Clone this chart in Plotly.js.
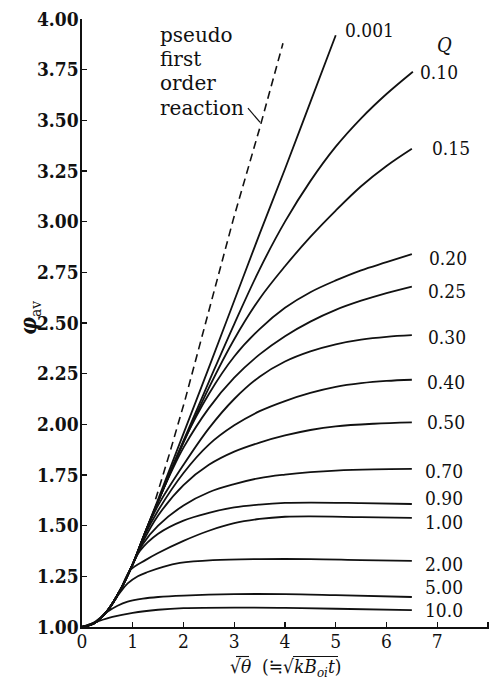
<!DOCTYPE html>
<html>
<head>
<meta charset="utf-8">
<script src="https://cdn.plot.ly/plotly-3.0.1.min.js"></script>
<style>html,body{margin:0;padding:0;background:#fff;}#chart{width:493px;height:680px;}</style>
</head>
<body>
<div id="chart"></div>
<script>
// ---- data ----
const pfoX = [1.45, 1.73, 2.03, 2.5, 2.98, 3.5, 3.96];
const pfoY = [1.63, 1.86, 2.12, 2.56, 3.01, 3.46, 3.88];

const q0001X = [0,0.25,0.5,0.75,1.0,1.25,1.5,1.87,2.5,3.0,3.5,4.0,4.5,5.0];
const q0001Y = [1,1.02,1.08,1.18,1.31,1.47,1.63,1.87,2.28,2.61,2.94,3.26,3.59,3.92];

const q010X = [0,0.25,0.5,0.75,1.0,1.25,1.5,2.0,2.5,3.0,3.5,4.0,4.5,5.0,5.5,6.0,6.52];
const q010Y = [1,1.02,1.08,1.18,1.31,1.47,1.62,1.92,2.21,2.495,2.765,3.0,3.2,3.37,3.51,3.63,3.74];

const q015X = [0,0.25,0.5,0.75,1.0,1.25,1.5,2.0,2.5,3.0,3.5,4.0,4.5,5.0,5.5,6.0,6.5];
const q015Y = [1,1.02,1.08,1.18,1.31,1.47,1.62,1.91,2.18,2.42,2.62,2.78,2.925,3.055,3.175,3.275,3.36];

const q020X = [0,0.25,0.5,0.75,1.0,1.25,1.5,1.75,2.0,2.5,3.0,3.5,4.0,4.5,5.0,5.5,6.0,6.5];
const q020Y = [1,1.02,1.08,1.18,1.31,1.47,1.62,1.77,1.915,2.15,2.335,2.47,2.575,2.652,2.71,2.76,2.80,2.84];

const q025X = [0,0.25,0.5,0.75,1.0,1.25,1.5,1.75,2.0,2.5,3.0,3.5,4.0,4.5,5.0,5.5,6.0,6.5];
const q025Y = [1,1.02,1.08,1.18,1.31,1.47,1.62,1.76,1.885,2.08,2.23,2.345,2.435,2.507,2.565,2.61,2.648,2.68];

const q030X = [0,0.25,0.5,0.75,1.0,1.25,1.5,2.0,2.5,3.0,3.5,4.0,4.5,5.0,5.5,6.0,6.5];
const q030Y = [1,1.02,1.08,1.18,1.31,1.47,1.60,1.80,1.98,2.125,2.235,2.31,2.36,2.395,2.418,2.432,2.44];

const q040X = [0,0.25,0.5,0.75,1.0,1.25,1.5,2.0,2.5,3.0,3.5,4.0,4.5,5.0,5.5,6.0,6.5];
const q040Y = [1,1.02,1.08,1.18,1.31,1.46,1.575,1.76,1.90,1.995,2.065,2.115,2.155,2.185,2.203,2.214,2.22];

const q050X = [0,0.25,0.5,0.75,1.0,1.2,1.5,2.0,2.5,3.0,3.5,4.0,4.5,5.0,5.75,6.5];
const q050Y = [1,1.02,1.08,1.18,1.31,1.42,1.55,1.70,1.80,1.865,1.91,1.945,1.972,1.99,2.003,2.01];

const q070X = [0,0.25,0.5,0.75,1.0,1.2,1.5,2.0,2.5,3.0,3.5,4.0,4.5,5.0,5.75,6.5];
const q070Y = [1,1.02,1.08,1.18,1.31,1.41,1.50,1.60,1.665,1.705,1.735,1.752,1.764,1.772,1.778,1.78];

const q090X = [0,0.25,0.5,0.75,1.0,1.14,1.5,2.0,2.5,3.0,3.5,4.0,4.5,5.5,6.5];
const q090Y = [1,1.02,1.08,1.18,1.31,1.375,1.46,1.525,1.563,1.59,1.604,1.612,1.614,1.611,1.607];

const q100X = [0,0.25,0.5,0.75,0.95,1.25,1.5,2.0,2.5,3.0,3.5,4.0,4.5,5.5,6.5];
const q100Y = [1,1.02,1.08,1.18,1.28,1.33,1.365,1.425,1.475,1.512,1.533,1.544,1.546,1.542,1.538];

const q200X = [0,0.25,0.5,0.75,0.9,1.1,1.28,1.6,1.93,2.58,3.5,4.5,5.5,6.5];
const q200Y = [1,1.02,1.08,1.17,1.215,1.25,1.27,1.297,1.316,1.33,1.335,1.335,1.33,1.326];

const q500X = [0,0.25,0.5,0.7,0.9,1.2,1.5,2.0,3.0,4.0,5.0,6.5];
const q500Y = [1,1.025,1.075,1.105,1.125,1.14,1.148,1.155,1.162,1.162,1.157,1.148];

const q1000X = [0,0.3,0.6,1.0,1.5,2.0,3.0,4.0,5.0,6.5];
const q1000Y = [1,1.027,1.05,1.07,1.085,1.093,1.096,1.094,1.09,1.083];

const qLabels = ["0.001","0.10","0.15","0.20","0.25","0.30","0.40","0.50","0.70","0.90","1.00","2.00","5.00","10.0"];
const pfoLabel = ["pseudo","first","order","reaction"];
const xTicks = [0,1,2,3,4,5,6,7,8];
const xTitle = '√<i>θ</i>  (≒√<i>kB</i><sub><i>oi</i></sub><i>t</i>)';
const yTitle = '<b><i>φ</i></b><sub>av</sub>';

// ---- drawing ----
const serif = 'DejaVu Serif Condensed, DejaVu Serif';
const serifW = 'DejaVu Serif';
const L = 82, R = 4, T = 19, B = 53, W = 493, H = 680;
const pw = W - L - R, ph = H - T - B;
const px2p = px => (px - L) / pw;          // pixel x -> paper x
const py2p = py => (H - B - py) / ph;      // pixel y -> paper y

const curves = [
  [q0001X,q0001Y],[q010X,q010Y],[q015X,q015Y],[q020X,q020Y],[q025X,q025Y],
  [q030X,q030Y],[q040X,q040Y],[q050X,q050Y],[q070X,q070Y],[q090X,q090Y],
  [q100X,q100Y],[q200X,q200Y],[q500X,q500Y],[q1000X,q1000Y]
];
const traces = curves.map((c,i)=>({
  x:c[0], y:c[1], type:'scatter', mode:'lines', name:qLabels[i],
  line:{color:'#111', width:1.8, shape:'spline', smoothing:1.0},
  hoverinfo:'skip', showlegend:false
}));
traces.push({x:pfoX, y:pfoY, type:'scatter', mode:'lines',
  line:{color:'#111', width:1.6, dash:'8px,5px'}, showlegend:false, hoverinfo:'skip'});

// label placement (layout only)
const labelPos = [
  [5.14,3.945],[6.63,3.738],[6.86,3.363],[6.80,2.82],[6.78,2.658],[6.77,2.43],
  [6.76,2.209],[6.76,2.011],[6.72,1.77],[6.72,1.635],[6.72,1.52],[6.71,1.311],
  [6.72,1.197],[6.71,1.083]
];
const ann = qLabels.map((t,i)=>({
  x:labelPos[i][0], y:labelPos[i][1], xref:'x', yref:'y', text:t, showarrow:false,
  xanchor:'left', yanchor:'middle', font:{family:serif, size:19, color:'#111'}
}));
ann.push({x:7.15, y:3.87, xref:'x', yref:'y', text:'<i>Q</i>', showarrow:false,
  xanchor:'center', yanchor:'middle', font:{family:serif, size:20, color:'#111'}});
const pfoYs = [3.92,3.805,3.683,3.56];
pfoLabel.forEach((t,i)=>ann.push({x:1.50, y:pfoYs[i], xref:'x', yref:'y', text:t,
  showarrow:false, xanchor:'left', yanchor:'middle', font:{family:serifW, size:20, color:'#111'}}));
// axis titles as annotations for exact placement
ann.push({xref:'paper', yref:'paper', x:px2p(285), y:py2p(667), text:xTitle, showarrow:false,
  xanchor:'center', yanchor:'middle', font:{family:serif, size:19, color:'#111'}});
ann.push({xref:'paper', yref:'paper', x:px2p(30), y:py2p(318), text:yTitle, showarrow:false,
  textangle:-90, xanchor:'center', yanchor:'middle', font:{family:serif, size:22, color:'#111'}});

const vinc = (a,b,y)=>({type:'line', xref:'paper', yref:'paper', x0:px2p(a), x1:px2p(b),
  y0:py2p(y), y1:py2p(y), line:{color:'#111', width:1.1}});

const layout = {
  width:W, height:H,
  margin:{l:L, r:R, t:T, b:B, pad:0},
  paper_bgcolor:'#fff', plot_bgcolor:'#fff',
  showlegend:false,
  font:{family:serif, color:'#111'},
  xaxis:{range:[0,8.02], tickvals:xTicks, ticktext:xTicks.map(String),
    ticks:'inside', ticklen:5, tickwidth:1.2, tickcolor:'#111',
    showline:true, linecolor:'#111', linewidth:1.6, showgrid:false, zeroline:false,
    tickfont:{family:serif, size:19, color:'#111'},
    ticklabelstandoff:-3
  },
  yaxis:{range:[1,4], dtick:0.25, tick0:1, tickformat:'.2f',
    ticks:'inside', ticklen:5, tickwidth:1.2, tickcolor:'#111',
    showline:true, linecolor:'#111', linewidth:1.6, showgrid:false, zeroline:false,
    tickfont:{family:serif, size:19, color:'#111', weight:'bold'},
    ticklabelstandoff:-2
  },
  shapes:[
    {type:'line', xref:'x', yref:'y', x0:3.27, y0:3.56, x1:3.51, y1:3.49, line:{color:'#111', width:1.2}},
    vinc(236,249,656.5), vinc(293,338,656.5)
  ],
  annotations:ann
};
Plotly.newPlot('chart', traces, layout, {staticPlot:true, displayModeBar:false});
</script>
</body>
</html>
